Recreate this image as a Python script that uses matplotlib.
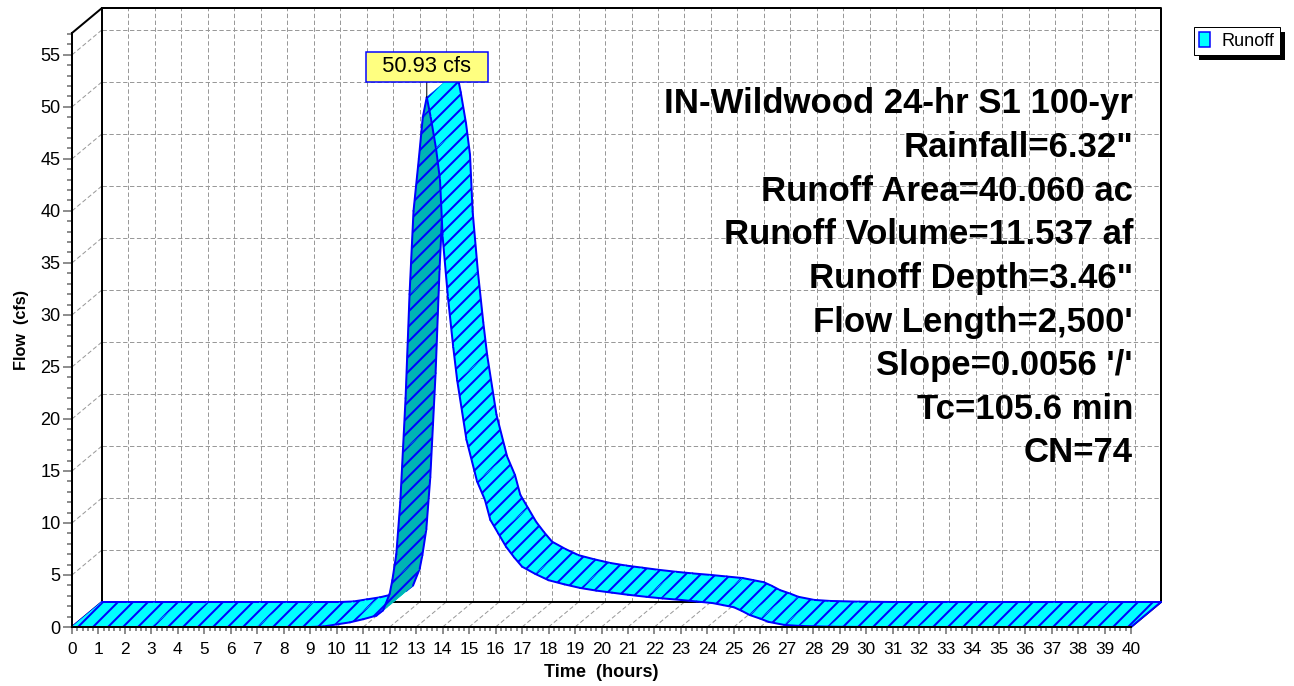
import numpy as np
import matplotlib
matplotlib.use("Agg")
import matplotlib.pyplot as plt
from matplotlib.patches import Polygon, Patch, Rectangle
from matplotlib.transforms import IdentityTransform

plt.rcParams['font.family'] = ['Liberation Sans', 'DejaVu Sans']
plt.rcParams['hatch.linewidth'] = 1.6
plt.rcParams['lines.scale_dashes'] = False

# hydrograph (hours, cfs)
times = [0, 1, 2, 3, 4, 5, 6, 7, 8, 9, 9.5, 10, 10.5, 11, 11.5, 11.75, 12.0,
         12.1, 12.25, 12.4, 12.5, 12.6, 12.75, 12.9, 13.1, 13.25, 13.4, 13.55,
         13.75, 13.9, 14.0, 14.2, 14.4, 14.55, 14.9, 15.3, 15.6, 15.8, 16.1,
         16.4, 16.7, 17.0, 17.5, 18.0, 18.6, 19.2, 19.8, 20.4, 21.0, 21.7,
         22.3, 23.0, 23.6, 24.2, 24.6, 25.0, 25.3, 25.6, 26.0, 26.3, 26.9,
         27.5, 28.6, 30, 32, 34, 36, 38, 40]
flows = [0, 0, 0, 0, 0, 0, 0, 0, 0, 0, 0.05, 0.25, 0.45, 0.75, 1.1, 1.6, 3.2,
         4.5, 7.0, 12.0, 17.0, 22.0, 32.0, 40.0, 45.0, 49.0, 50.93, 49.0,
         46.0, 43.0, 37.5, 31.7, 26.9, 23.7, 18.0, 14.0, 12.2, 10.3, 9.0,
         7.7, 6.7, 5.8, 5.1, 4.5, 4.1, 3.75, 3.5, 3.3, 3.1, 2.9,
         2.75, 2.6, 2.45, 2.3, 2.1, 1.9, 1.55, 1.15, 0.8, 0.5, 0.2,
         0.1, 0.03, 0, 0, 0, 0, 0, 0]

x_ticks = list(range(0, 41))
y_ticks = list(range(0, 56, 5))
series_name = "Runoff"
info_lines = ["IN-Wildwood 24-hr S1 100-yr", 'Rainfall=6.32"',
              "Runoff Area=40.060 ac", "Runoff Volume=11.537 af",
              'Runoff Depth=3.46"', "Flow Length=2,500'", "Slope=0.0056 '/'",
              "Tc=105.6 min", "CN=74"]

CYAN = '#00ffff'
TEAL = '#00b4b4'
BLUE = '#0000ff'
GRID = '#999999'

W, H, DPI = 1294, 686, 90
fig = plt.figure(figsize=(W / DPI, H / DPI), dpi=DPI)
ax = fig.add_axes([72 / W, (H - 627) / H, (1131 - 72) / W, (627 - 33) / H])
xmax, ytop = 40, 57.1
ax.set_xlim(0, xmax)
ax.set_ylim(0, ytop)

# depth of the pseudo 3d box, in data units
DX = 30 / ((1131 - 72) / xmax)
DY = 25 / ((627 - 33) / ytop)

dash = (0, (3.5, 2))
# back wall, side wall and floor grid
for yv in y_ticks[1:]:
    ax.plot([DX, xmax + DX], [yv + DY, yv + DY], color=GRID, lw=0.8, ls=dash,
            clip_on=False, zorder=1)
    ax.plot([0, DX], [yv, yv + DY], color=GRID, lw=0.8, ls=dash,
            clip_on=False, zorder=1)
for xv in x_ticks[1:-1]:
    ax.plot([xv + DX, xv + DX], [DY, ytop + DY], color=GRID, lw=0.8, ls=dash,
            clip_on=False, zorder=1)
    ax.plot([xv, xv + DX], [0, DY], color=GRID, lw=0.8, ls=dash,
            clip_on=False, zorder=1)

# box frame
frame = dict(color='black', lw=1.6, clip_on=False, zorder=1.5)
ax.plot([0, DX, xmax + DX, xmax + DX], [ytop, ytop + DY, ytop + DY, DY], **frame)
ax.plot([DX, DX], [DY, ytop + DY], **frame)
ax.plot([0, DX, xmax + DX, xmax], [0, DY, DY, 0], **frame)

# ribbon, painted left to right
t = np.array(times, dtype=float)
q = np.array(flows, dtype=float)
edge = dict(color=BLUE, lw=1.6, clip_on=False, zorder=3, solid_capstyle='round')
ax.plot([t[0], t[0] + DX], [q[0], q[0] + DY], **edge)
for i in range(len(t) - 1):
    quad = [(t[i], q[i]), (t[i + 1], q[i + 1]),
            (t[i + 1] + DX, q[i + 1] + DY), (t[i] + DX, q[i] + DY)]
    under = (t[i + 1] - t[i]) * DY - (q[i + 1] - q[i]) * DX < 0
    fc = TEAL if under else CYAN
    ax.add_patch(Polygon(quad, closed=True, fc=fc, ec=fc, lw=0.6,
                         clip_on=False, zorder=3))
    ax.add_patch(Polygon(quad, closed=True, fc='none', ec=BLUE, lw=0,
                         hatch='//', clip_on=False, zorder=3))
    ax.plot([t[i], t[i + 1]], [q[i], q[i + 1]], **edge)
    ax.plot([t[i] + DX, t[i + 1] + DX], [q[i] + DY, q[i + 1] + DY], **edge)
ax.plot([t[-1], t[-1] + DX], [q[-1], q[-1] + DY], **edge)

# axes and ticks
for s in ['top', 'right']:
    ax.spines[s].set_visible(False)
for s in ['left', 'bottom']:
    ax.spines[s].set_linewidth(1.6)
    ax.spines[s].set_zorder(4)
ax.set_xticks(x_ticks)
ax.set_xticklabels([str(v) for v in x_ticks],
                   fontfamily=['Liberation Sans Narrow', 'Liberation Sans'],
                   fontsize=13.8)
ax.set_xticks(np.arange(0, xmax + 0.01, 0.2), minor=True)
ax.set_yticks(y_ticks)
ax.set_yticklabels([str(v) for v in y_ticks], fontsize=14.5)
ax.set_yticks(np.arange(0, ytop, 1), minor=True)
ax.tick_params(axis='y', which='major', length=7.2, width=1.4, color='#808080', pad=2)
ax.tick_params(axis='y', which='minor', length=4, width=1.4, color='#808080')
ax.tick_params(axis='x', which='major', length=5.6, width=1.4, color='#808080', pad=6)
ax.tick_params(axis='x', which='minor', length=3.2, width=1.4, color='#808080')
ax.set_xlabel("Time  (hours)", fontsize=14.5, fontweight='bold', labelpad=6)
ax.set_ylabel("Flow  (cfs)", fontsize=13, fontweight='bold', labelpad=9)
ax.patch.set_visible(False)

# peak label
ip = int(np.argmax(q))
ax.annotate(f"  {q[ip]:.2f} cfs  ", xy=(t[ip], q[ip]), xytext=(0, 24.2),
            textcoords='offset points', ha='center', va='center', fontsize=17.5,
            bbox=dict(boxstyle='square,pad=0.2', fc='#ffff80', ec=BLUE, lw=1.2),
            arrowprops=dict(arrowstyle='-', color='black', lw=0.8,
                            shrinkA=0, shrinkB=0),
            zorder=6, annotation_clip=False)

# summary text
for k, line in enumerate(info_lines):
    fig.text(1133 / W, 1 - (104 + 43.6 * k) / H, line, ha='right', va='center',
             fontsize=27.8, fontweight='bold', zorder=5)

leg = ax.legend(handles=[Patch(facecolor=CYAN, edgecolor=BLUE, lw=1.2,
                               label=series_name)],
                loc='upper left', bbox_to_anchor=(1194 / W, 1 - 27 / H),
                bbox_transform=fig.transFigure, fontsize=14.5, frameon=True,
                fancybox=False, edgecolor='black', framealpha=1,
                borderpad=0.3, handlelength=0.6, handleheight=0.85,
                handletextpad=0.6, borderaxespad=0)
leg.get_frame().set_linewidth(0.8)

# hard black drop shadow behind the legend
fig.canvas.draw()
bb = leg.get_window_extent()
fig.add_artist(Rectangle((bb.x0 + 5, bb.y0 - 5), bb.width, bb.height,
                         transform=IdentityTransform(), fc='black', ec='none',
                         zorder=-1))

fig.savefig("out.png", dpi=DPI)
